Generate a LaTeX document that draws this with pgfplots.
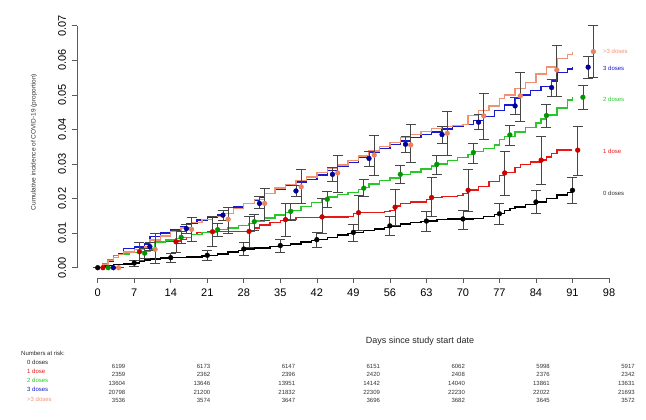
\documentclass[border=0pt]{standalone}
\usepackage{fontspec}
\setmainfont{Liberation Sans}
\usepackage{pgfplots}
\usepackage{pgfplotstable}
\pgfplotsset{compat=1.18}
\definecolor{c1}{RGB}{232,24,24}
\definecolor{c1d}{RGB}{200,0,0}
\definecolor{c2}{RGB}{40,200,40}
\definecolor{c2d}{RGB}{0,150,0}
\definecolor{c3}{RGB}{25,25,205}
\definecolor{c3d}{RGB}{0,0,150}
\definecolor{c4}{RGB}{240,145,115}
\definecolor{c4d}{RGB}{235,130,95}
\definecolor{ebar}{RGB}{70,70,70}
\definecolor{axc}{RGB}{90,90,90}

\pgfplotstableread{
x y ep em
0 0 0 0
7 0.00135 0.00085 0.00095
14 0.0029 0.0012 0.0014
21 0.0036 0.0013 0.0014
28 0.0054 0.0018 0.0018
35 0.0064 0.0019 0.0020
42 0.0081 0.0020 0.0023
49 0.0102 0.0023 0.0026
56 0.0121 0.0027 0.0027
63 0.0135 0.0027 0.0029
70 0.0141 0.0026 0.0030
77 0.0156 0.0030 0.0032
84 0.0190 0.0033 0.0034
91 0.0224 0.0037 0.0037
}\ptzero
\pgfplotstableread{
x y ep em
1 0 0 0
8 0.0046 0.0028 0.0024
15 0.0075 0.0034 0.0032
22 0.0104 0.0044 0.0043
29 0.0105 0.0043 0.0045
36 0.0139 0.0047 0.0049
43 0.0147 0.0052 0.0048
50 0.0159 0.0049 0.0050
57 0.0175 0.0052 0.0052
64 0.0203 0.0057 0.0055
71 0.0224 0.0059 0.0060
78 0.0274 0.0063 0.0064
85 0.0311 0.0068 0.0070
92 0.0340 0.0070 0.0074
}\ptone
\pgfplotstableread{
x y ep em
2 0 0 0
9 0.0042 0.0014 0.0015
16 0.0088 0.0016 0.0018
23 0.0110 0.0018 0.0019
30 0.0133 0.0022 0.0024
37 0.0163 0.0023 0.0025
44 0.0198 0.0022 0.0023
51 0.0230 0.0024 0.0025
58 0.0270 0.0025 0.0026
65 0.0299 0.0026 0.0028
72 0.0333 0.0027 0.0031
79 0.0384 0.0029 0.0031
86 0.0440 0.0032 0.0033
93 0.0493 0.0033 0.0036
}\pttwo
\pgfplotstableread{
x y ep em
3 0 0 0
10 0.0061 0.0012 0.0012
17 0.0113 0.0013 0.0014
24 0.0152 0.0015 0.0014
31 0.0186 0.0019 0.0014
38 0.0222 0.0017 0.0017
45 0.0270 0.0019 0.0021
52 0.0316 0.0020 0.0022
59 0.0357 0.0022 0.0023
66 0.0385 0.0023 0.0025
73 0.0421 0.0021 0.0021
80 0.0468 0.0025 0.0026
87 0.0521 0.0024 0.0026
94 0.0580 0.0030 0.0032
}\ptthree
\pgfplotstableread{
x y ep em
4 0 0 0
11 0.0053 0.0046 0.0040
18 0.0111 0.0035 0.0036
25 0.0140 0.0035 0.0040
32 0.0186 0.0044 0.0048
39 0.0234 0.0049 0.0048
46 0.0274 0.0050 0.0056
53 0.0326 0.0056 0.0058
60 0.0355 0.0060 0.0051
67 0.0389 0.0062 0.0063
74 0.0439 0.0065 0.0068
81 0.0497 0.0068 0.0073
88 0.0572 0.0072 0.0077
95 0.0625 0.0077 0.0075
}\ptfour

\pgfplotsset{ptstyle/.style={only marks, mark=*, mark size=2.4pt,
  error bars/y dir=both, error bars/y explicit,
  error bars/error bar style={ebar, line width=0.8pt},
  error bars/error mark options={ebar, line width=0.8pt, mark size=5pt, rotate=90}}}

\begin{document}
\begin{tikzpicture}[x=1pt,y=1pt]
\path[use as bounding box] (0,0) rectangle (646,420);
\begin{axis}[
  at={(77pt,142pt)}, anchor=south west,
  scale only axis, width=532pt, height=252.3pt,
  xmin=-3.97, xmax=98, ymin=-0.00298, ymax=0.07,
  clip=false,
  scaled y ticks=false, scaled x ticks=false,
  axis x line*=bottom, axis y line*=left,
  axis line style={draw=none},
  tick align=outside,
  major tick length=5pt,
  tick style={axc, line width=0.6pt},
  xtick={0,7,14,21,28,35,42,49,56,63,70,77,84,91,98},
  ytick={0,0.01,0.02,0.03,0.04,0.05,0.06,0.07},
  yticklabels={0.00,0.01,0.02,0.03,0.04,0.05,0.06,0.07},
  xticklabel style={font=\fontsize{11}{11}\selectfont, yshift=-2.5pt},
  yticklabel style={font=\fontsize{11}{11}\selectfont, xshift=-2.5pt, rotate=90, anchor=south},
  /pgf/number format/assume math mode=true,
]
\draw[axc, line width=0.6pt] (axis cs:0,-0.00298) -- (axis cs:98,-0.00298);
\draw[axc, line width=0.6pt] (axis cs:-3.97,0) -- (axis cs:-3.97,0.07);

% step curves
\addplot[const plot, black, line width=1.4pt] coordinates {(0,0)(1,0.0003)(2,0.0006)(3,0.0009)(5,0.0011)(7,0.0014)(8,0.0018)(9,0.0022)(10,0.0025)(12,0.0028)(14,0.0029)(17,0.0031)(20,0.0034)(21,0.0036)(23,0.0040)(25,0.0045)(27,0.0050)(28,0.0054)(30,0.0057)(33,0.0061)(35,0.0064)(37,0.0069)(39,0.0074)(41,0.0079)(42,0.0082)(44,0.0088)(46,0.0094)(48,0.0099)(49,0.0102)(51,0.0107)(53,0.0112)(55,0.0117)(56,0.0121)(58,0.0126)(60,0.0130)(62,0.0133)(63,0.0135)(65,0.0139)(67,0.0141)(70,0.0141)(72,0.0143)(74,0.0148)(76,0.0153)(77,0.0157)(78,0.0165)(79,0.0172)(80,0.0176)(82,0.0183)(84,0.0190)(86,0.0200)(88,0.0210)(90,0.0218)(91,0.0223)};
\addplot[const plot, c1, line width=1.4pt] coordinates {(0,0)(1,0.001)(2,0.002)(3,0.003)(4,0.0038)(6,0.0044)(8,0.0047)(10,0.0052)(11,0.0076)(13,0.0077)(15,0.0077)(16,0.0082)(17,0.0088)(18,0.0096)(19,0.0101)(21,0.0104)(24,0.0105)(29,0.0106)(30,0.0115)(31,0.0124)(33,0.0130)(35,0.0137)(36,0.0140)(38,0.0146)(43,0.0147)(48,0.0148)(49,0.0156)(50,0.0160)(55,0.0162)(56,0.0165)(57,0.0178)(58,0.0186)(60,0.0190)(63,0.0197)(64,0.0203)(66,0.0206)(69,0.0208)(70,0.0215)(71,0.0225)(73,0.0235)(75,0.0250)(77,0.0266)(78,0.0275)(80,0.0290)(81,0.0298)(83,0.0306)(85,0.0312)(86,0.0320)(87,0.0330)(88,0.0340)(91,0.0340)};
\addplot[const plot, c2, line width=1.4pt] coordinates {(0,0)(1,0.0012)(2,0.0024)(3,0.0035)(4,0.0040)(6,0.0044)(8,0.0046)(10,0.0055)(11,0.0074)(13,0.0080)(15,0.0085)(16,0.0088)(18,0.0096)(20,0.0102)(23,0.0110)(25,0.0115)(27,0.0122)(29,0.0128)(30,0.0135)(32,0.0144)(34,0.0152)(36,0.0160)(37,0.0166)(39,0.0177)(41,0.0188)(43,0.0197)(44,0.0204)(46,0.0211)(48,0.0218)(50,0.0226)(51,0.0232)(52,0.0242)(54,0.0252)(56,0.0260)(58,0.0270)(60,0.0277)(62,0.0285)(64,0.0294)(65,0.0300)(67,0.0310)(69,0.0318)(71,0.0328)(72,0.0336)(74,0.0345)(76,0.0355)(77,0.0370)(78,0.0380)(80,0.0392)(82,0.0405)(84,0.0418)(85,0.0430)(86,0.0442)(88,0.0462)(90,0.0485)(91,0.0494)};
\addplot[const plot, c3, line width=1.4pt] coordinates {(0,0)(1,0.0008)(2,0.0018)(3,0.0030)(4,0.0040)(5,0.0055)(7,0.0060)(9,0.0068)(10,0.0090)(12,0.0100)(14,0.0110)(16,0.0120)(17,0.0127)(19,0.0138)(21,0.0145)(23,0.0152)(24,0.0157)(26,0.0176)(28,0.0186)(30,0.0196)(31,0.0205)(32,0.0215)(34,0.0228)(36,0.0238)(38,0.0248)(40,0.0255)(42,0.0268)(44,0.0282)(46,0.0292)(48,0.0305)(50,0.0320)(52,0.0334)(54,0.0345)(56,0.0357)(58,0.0367)(60,0.0376)(62,0.0385)(64,0.0393)(66,0.0401)(68,0.0408)(70,0.0415)(72,0.0425)(74,0.0438)(76,0.0455)(78,0.0471)(80,0.0490)(81,0.0500)(83,0.0512)(85,0.0524)(87,0.0540)(88,0.0565)(90,0.0575)(91,0.0581)};
\addplot[const plot, c4, line width=1.4pt] coordinates {(0,0)(1,0.0010)(2,0.0020)(3,0.0030)(4,0.0038)(5,0.0045)(7,0.0052)(9,0.0060)(10,0.0080)(12,0.0092)(14,0.0105)(16,0.0115)(18,0.0130)(20,0.0140)(22,0.0148)(24,0.0157)(26,0.0172)(28,0.0185)(30,0.0198)(32,0.0215)(34,0.0230)(36,0.0240)(38,0.0252)(40,0.0262)(42,0.0275)(44,0.0287)(46,0.0297)(48,0.0310)(50,0.0323)(52,0.0338)(54,0.0350)(56,0.0362)(58,0.0377)(60,0.0385)(62,0.0394)(64,0.0402)(66,0.0408)(68,0.0412)(70,0.0415)(71,0.0440)(73,0.0455)(75,0.0468)(77,0.0490)(78,0.0500)(80,0.0518)(82,0.0535)(84,0.0560)(86,0.0580)(88,0.0605)(90,0.0617)(91,0.0623)};

% points with confidence intervals
\addplot[ptstyle, black, mark options={fill=black}] table[x=x,y=y,y error plus=ep,y error minus=em] {\ptzero};
\addplot[ptstyle, c1d, mark options={fill=c1d}] table[x=x,y=y,y error plus=ep,y error minus=em] {\ptone};
\addplot[ptstyle, c2d, mark options={fill=c2d}] table[x=x,y=y,y error plus=ep,y error minus=em] {\pttwo};
\addplot[ptstyle, c3d, mark options={fill=c3d}] table[x=x,y=y,y error plus=ep,y error minus=em] {\ptthree};
\addplot[ptstyle, c4d, mark options={fill=c4d}] table[x=x,y=y,y error plus=ep,y error minus=em] {\ptfour};
\end{axis}

% labels
\node[rotate=90, font=\fontsize{6.5}{7}\selectfont, text=black!80] at (34,278) {Cumulative incidence of COVID-19 (proportion)};
\node[font=\fontsize{9}{10}\selectfont, text=black!85] at (420,79) {Days since study start date};

\begin{scope}[font=\fontsize{6}{7}\selectfont]
\node[anchor=west, text=c4, inner sep=0pt] at (603,369) {>3 doses};
\node[anchor=west, text=c3, inner sep=0pt] at (603,352) {3 doses};
\node[anchor=west, text=c2, inner sep=0pt] at (603,321) {2 doses};
\node[anchor=west, text=c1, inner sep=0pt] at (603,269) {1 dose};
\node[anchor=west, text=black!80, inner sep=0pt] at (603,227) {0 doses};

\node[anchor=west, inner sep=0pt, text=black!85] at (21,67) {Numbers at risk:};
\node[anchor=west, inner sep=0pt, text=black!85] at (27,58) {0 doses};
\node[anchor=west, inner sep=0pt, text=c1] at (27,49) {1 dose};
\node[anchor=west, inner sep=0pt, text=c2] at (27,39.5) {2 doses};
\node[anchor=west, inner sep=0pt, text=c3] at (27,30.5) {3 doses};
\node[anchor=west, inner sep=0pt, text=c4] at (27,21) {>3 doses};

\foreach \xx/\a/\b/\c/\d/\e in {125.5/6199/2359/13604/20798/3536, 210.4/6173/2362/13646/21200/3574, 295.3/6147/2396/13951/21832/3647, 380.2/6151/2420/14142/22309/3696, 465.1/6062/2408/14040/22230/3682, 550/5998/2376/13861/22022/3645, 634.9/5917/2342/13631/21693/3572}{
  \node[anchor=east, inner sep=0pt, text=black!80] at (\xx,54) {\a};
  \node[anchor=east, inner sep=0pt, text=black!80] at (\xx,45.5) {\b};
  \node[anchor=east, inner sep=0pt, text=black!80] at (\xx,36.7) {\c};
  \node[anchor=east, inner sep=0pt, text=black!80] at (\xx,28) {\d};
  \node[anchor=east, inner sep=0pt, text=black!80] at (\xx,19.3) {\e};
}
\end{scope}
\end{tikzpicture}
\end{document}
